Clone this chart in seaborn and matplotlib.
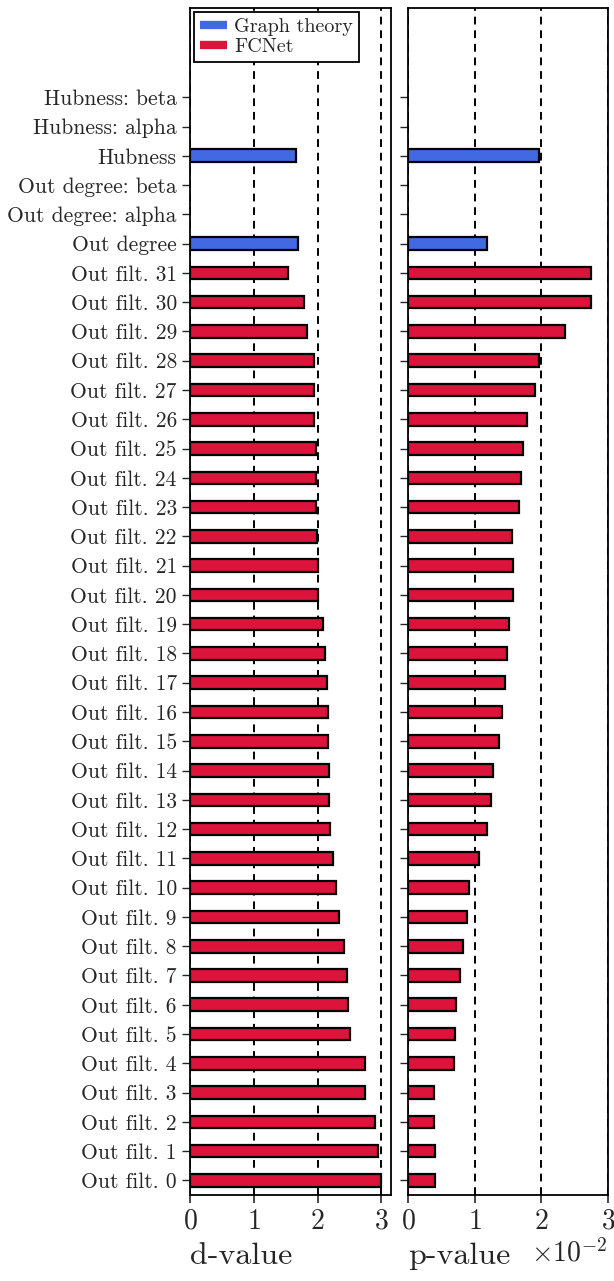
import numpy as np
import pandas as pd
import matplotlib
matplotlib.use("Agg")
import matplotlib.pyplot as plt
import seaborn as sns
from matplotlib.lines import Line2D

# categories top -> bottom
categories = ["Hubness: beta", "Hubness: alpha", "Hubness",
              "Out degree: beta", "Out degree: alpha", "Out degree"] + \
             ["Out filt. %d" % i for i in range(31, -1, -1)]

# only categories with a bar
graph_labels = ["Hubness", "Out degree"]
graph_d = [1.66, 1.70]
graph_p = [1.96, 1.18]  # x 1e-2

filt_labels = ["Out filt. %d" % i for i in range(31, -1, -1)]
filt_d = [1.54, 1.78, 1.84, 1.94, 1.94, 1.95, 1.97, 1.97, 1.97, 1.99,
          2.01, 2.01, 2.08, 2.12, 2.15, 2.17, 2.17, 2.18, 2.18, 2.19,
          2.24, 2.29, 2.34, 2.42, 2.46, 2.47, 2.51, 2.75, 2.75, 2.90,
          2.95, 2.99]
filt_p = [2.74, 2.74, 2.35, 1.96, 1.90, 1.79, 1.72, 1.69, 1.66, 1.56,
          1.57, 1.57, 1.51, 1.48, 1.46, 1.41, 1.37, 1.28, 1.24, 1.18,
          1.06, 0.92, 0.89, 0.83, 0.78, 0.72, 0.71, 0.69, 0.39, 0.39,
          0.40, 0.40]  # x 1e-2

groups = ["Graph theory", "FCNet"]
colors = {"Graph theory": "#4169E1", "FCNet": "#DC143C"}

df = pd.DataFrame({
    "feature": graph_labels + filt_labels,
    "d": graph_d + filt_d,
    "p": np.array(graph_p + filt_p) * 1e-2,
    "group": ["Graph theory"] * len(graph_labels) + ["FCNet"] * len(filt_labels),
})

sns.set_style("ticks")
plt.rcParams["font.family"] = ["cmr10", "DejaVu Serif"]
plt.rcParams["mathtext.fontset"] = "cm"
plt.rcParams["axes.formatter.use_mathtext"] = True
plt.rcParams["axes.unicode_minus"] = False

fig = plt.figure(figsize=(6.14, 12.81), dpi=100)
ax1 = fig.add_axes([0.3094, 0.0671, 0.3274, 0.9267])
ax2 = fig.add_axes([0.6645, 0.0671, 0.3255, 0.9267])

bar_kw = dict(y="feature", hue="group", order=categories, hue_order=groups,
              palette=colors, saturation=1, dodge=False, width=0.43, orient="h",
              edgecolor="black", linewidth=1.6, legend=False)
sns.barplot(data=df, x="d", ax=ax1, **bar_kw)
sns.barplot(data=df, x="p", ax=ax2, **bar_kw)

for ax in (ax1, ax2):
    ax.set_ylim(37.5, -3.05)
    ax.set_ylabel("")
    ax.set_axisbelow(True)
    ax.xaxis.grid(True, linestyle=(0, (4, 3)), color="black", linewidth=1.4)
    ax.yaxis.grid(False)
    for s in ax.spines.values():
        s.set_visible(True)
        s.set_linewidth(1.3)
        s.set_color("black")
    ax.tick_params(axis="x", labelsize=20, length=6, width=1.2, direction="out")
    ax.tick_params(axis="y", labelsize=15.5, length=6, width=1.0, direction="out")

ax1.set_xlim(0, 3.15)
ax1.set_xticks([0, 1, 2, 3])
ax1.set_xlabel("d-value", fontsize=23, loc="left", labelpad=6)

ax2.set_xlim(0, 0.03)
ax2.set_xticks([0, 0.01, 0.02, 0.03])
ax2.set_yticklabels([])
ax2.set_xlabel("p-value", fontsize=23, loc="left", labelpad=6)
ax2.ticklabel_format(axis="x", style="sci", scilimits=(-2, -2))
ax2.xaxis.get_offset_text().set_fontsize(20)

handles = [Line2D([0], [0], color=colors[g], lw=6, solid_capstyle="butt")
           for g in groups]
ax1.legend(handles, groups, loc="upper left", fontsize=14.5, frameon=True,
           fancybox=False, edgecolor="black", framealpha=1, handlelength=1.35,
           borderpad=0.3, labelspacing=0.1, handletextpad=0.35,
           borderaxespad=0.2).get_frame().set_linewidth(1.3)

fig.savefig("out.png", dpi=100)
